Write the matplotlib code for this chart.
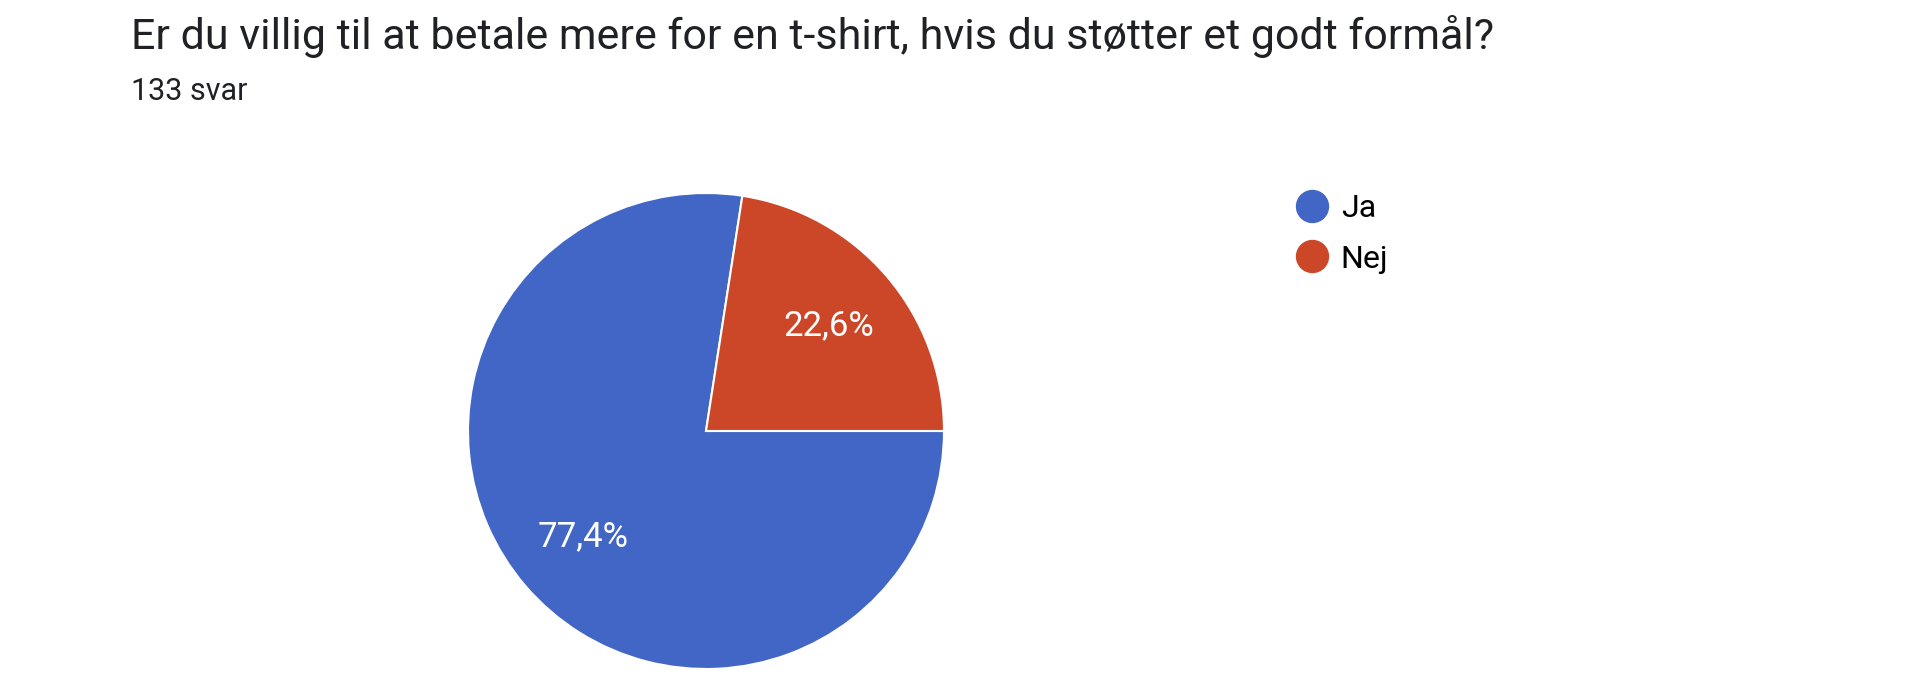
import matplotlib.pyplot as plt
from matplotlib.lines import Line2D

plt.rcParams['font.family'] = ['Roboto', 'DejaVu Sans']

# Survey data
title = "Er du villig til at betale mere for en t-shirt, hvis du støtter et godt formål?"
subtitle = "133 svar"
answers = ["Ja", "Nej"]
counts = [103, 30]
colors = ["#4166C5", "#CB4728"]

W, H = 1914, 692
fig = plt.figure(figsize=(W / 100, H / 100), dpi=100)

# Pie axes: centre (706, 431) px from top-left, radius 238 px
cx, cy, r = 706, 431, 238
ax = fig.add_axes([(cx - r) / W, (H - cy - r) / H, 2 * r / W, 2 * r / H])
start = 360 * counts[1] / sum(counts)
wedges, texts, autotexts = ax.pie(
    counts, colors=colors, startangle=start, counterclock=True, radius=1,
    autopct=lambda p: f"{p:.1f}%".replace(".", ","), pctdistance=0.68,
    wedgeprops=dict(edgecolor="white", linewidth=1.5),
    textprops=dict(color="white", fontsize=25))
ax.set_xlim(-1, 1)
ax.set_ylim(-1, 1)
ax.axis("off")

fig.text(131 / W, 1 - 37 / H, title, fontsize=31, color="#202124", va="center", ha="left")
fig.text(131 / W, 1 - 92 / H, subtitle, fontsize=22, color="#202124", va="center", ha="left")

handles = [Line2D([], [], marker="o", linestyle="", markersize=23, markerfacecolor=c,
                  markeredgecolor=c) for c in colors]
fig.legend(handles, answers, loc="upper left", bbox_to_anchor=(1280 / W, 1 - 181 / H),
           frameon=False, fontsize=23, handletextpad=0.3, labelspacing=0.68,
           handlelength=1.2, borderaxespad=0)

fig.savefig("out.png", dpi=100, facecolor="white")
